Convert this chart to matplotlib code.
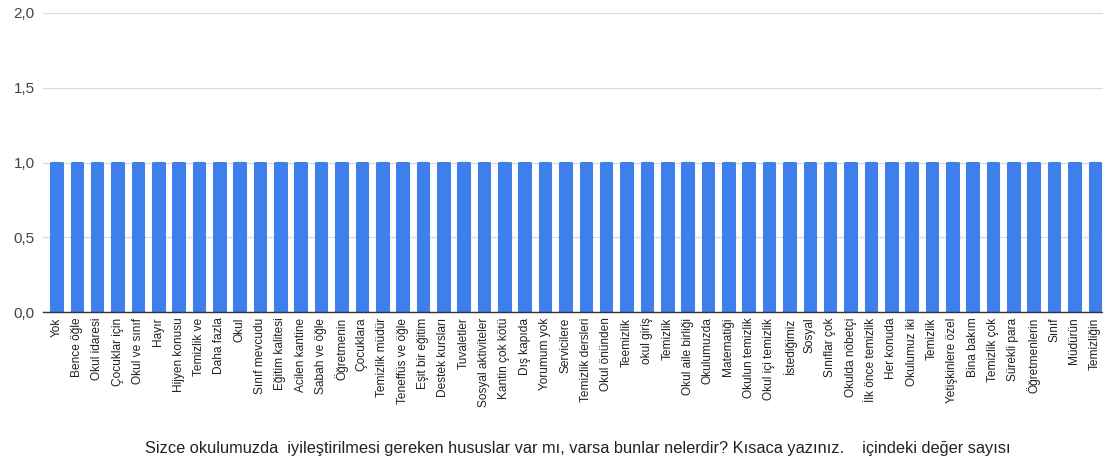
import matplotlib
matplotlib.use("Agg")
import matplotlib.pyplot as plt

plt.rcParams['font.family'] = ['Liberation Sans', 'DejaVu Sans']

categories = [
    "Yok", "Bence öğle", "Okul idaresi", "Çocuklar için", "Okul ve sınıf",
    "Hayır", "Hijyen konusu", "Temizlik ve", "Daha fazla", "Okul",
    "Sınıf mevcudu", "Eğitim kalitesi", "Acilen kantine", "Sabah ve öğle",
    "Öğretmenin", "Çocuklara", "Temizlik müdür", "Teneffüs ve öğle",
    "Eşit bir eğitim", "Destek kursları", "Tuvaletler", "Sosyal aktiviteler",
    "Kantin çok kötü", "Dış kapıda", "Yorumum yok", "Servicilere",
    "Temizlik dersleri", "Okul önünden", "Teemizlik", "okul giriş",
    "Temizlik", "Okul aile birliği", "Okulumuzda", "Matematiği",
    "Okulun temizlik", "Okul içi temizlik", "İstediğimiz", "Sosyal",
    "Sınıflar çok", "Okulda nöbetçi", "İlk önce temizlik", "Her konuda",
    "Okulumuz iki", "Temizlik", "Yetişkinlere özel", "Bina bakım",
    "Temizlik çok", "Sürekli para", "Öğretmenlerin", "Sınıf", "Müdürün",
    "Temizliğin",
]
counts = [1] * len(categories)
y_ticks = [0.0, 0.5, 1.0, 1.5, 2.0]
y_tick_labels = ["0,0", "0,5", "1,0", "1,5", "2,0"]
x_title = ("Sizce okulumuzda  iyileştirilmesi gereken hususlar var mı, varsa bunlar "
           "nelerdir? Kısaca yazınız.    içindeki değer sayısı")

bar_color = "#3f7fec"

fig = plt.figure(figsize=(11.03, 4.63), dpi=100)
ax = fig.add_axes([43 / 1103, 1 - 312 / 463, 1 - 43 / 1103, (312 - 13) / 463])

x = list(range(len(categories)))
ax.bar(x, counts, width=0.52, color=bar_color, edgecolor=bar_color,
       linewidth=2.2, joinstyle="round", zorder=3)

ax.set_xlim(-0.66, len(categories) - 0.6)
ax.set_ylim(0, 2.0)
ax.set_yticks(y_ticks)
ax.set_yticklabels(y_tick_labels, fontsize=11, color="#444444")
ax.set_xticks(x)
ax.set_xticklabels(categories, rotation=90, fontsize=8.6, color="#222222")
ax.tick_params(axis="both", length=0, pad=4)
ax.tick_params(axis="y", pad=6)

ax.grid(axis="y", color="#d9d9d9", linewidth=0.9, zorder=0)
for side in ["top", "right", "left"]:
    ax.spines[side].set_visible(False)
ax.spines["bottom"].set_color("#333333")
ax.spines["bottom"].set_linewidth(1.0)
ax.spines["bottom"].set_zorder(4)

fig.text(578 / 1103, 1 - 449 / 463, x_title, ha="center", va="center",
         fontsize=11.8, color="#222222")

fig.savefig("out.png", dpi=100)
